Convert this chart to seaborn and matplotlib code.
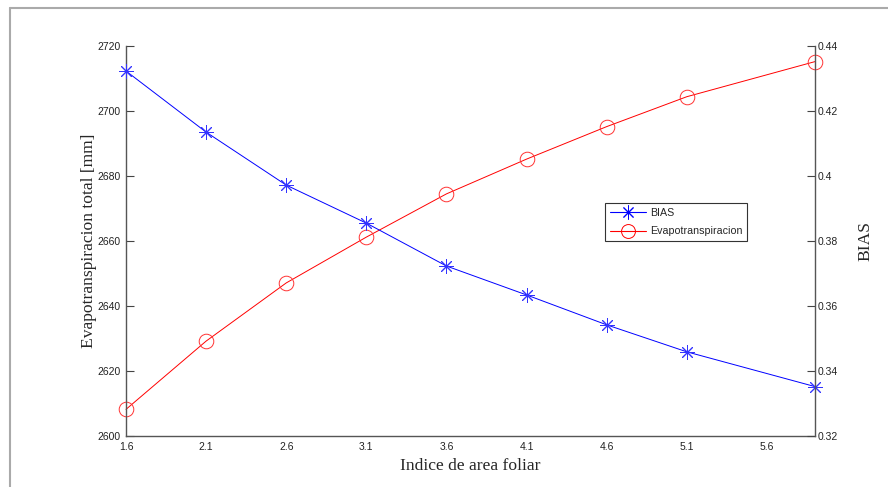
import matplotlib
matplotlib.use("Agg")
import matplotlib.pyplot as plt
from matplotlib.lines import Line2D
import seaborn as sns
import pandas as pd

lai = [1.6, 2.1, 2.6, 3.1, 3.6, 4.1, 4.6, 5.1, 5.9]
bias = [0.4323, 0.4135, 0.3972, 0.3855, 0.3723, 0.3634, 0.3542, 0.3459, 0.3352]
evapo = [2608.2, 2629.2, 2647.1, 2661.2, 2674.5, 2685.2, 2695.2, 2704.4, 2715.2]
xticks = [1.6, 2.1, 2.6, 3.1, 3.6, 4.1, 4.6, 5.1, 5.6]
yticks_left = [2600, 2620, 2640, 2660, 2680, 2700, 2720]
yticks_right = [0.32, 0.34, 0.36, 0.38, 0.4, 0.42, 0.44]

df = pd.DataFrame({"lai": lai, "bias": bias, "evapo": evapo})

sns.set_style("white")
fig = plt.figure(figsize=(8.88, 4.87), dpi=100)
ax = fig.add_axes([126/888, 1-436/487, (815-126)/888, (436-46)/487])
ax2 = ax.twinx()

asterisk = (8, 2, 0)
sns.lineplot(data=df, x="lai", y="evapo", ax=ax, color="red", lw=0.7,
             marker="o", markersize=10.5, markerfacecolor="none",
             markeredgecolor="#ff3333", markeredgewidth=0.7, clip_on=False)
sns.lineplot(data=df, x="lai", y="bias", ax=ax2, color="blue", lw=0.7,
             marker=asterisk, markersize=10.5, markeredgecolor="#3333ff",
             markeredgewidth=0.7, clip_on=False)

ax.set_xlim(1.6, 5.9)
ax.set_ylim(2600, 2720)
ax2.set_ylim(0.32, 0.44)
ax.set_xticks(xticks)
ax.set_xticklabels([f"{v:g}" for v in xticks])
ax.set_yticks(yticks_left)
ax.set_yticklabels([str(v) for v in yticks_left])
ax2.set_yticks(yticks_right)
ax2.set_yticklabels([f"{v:g}" for v in yticks_right])

for lab in ax.get_xticklabels() + ax.get_yticklabels() + ax2.get_yticklabels():
    lab.set_fontfamily("Liberation Sans")
    lab.set_fontsize(7.5)
    lab.set_color("#222222")

ax.tick_params(axis="both", direction="in", length=6, width=0.8, color="#444444", pad=4)
ax2.tick_params(axis="y", direction="in", length=6, width=0.8, color="#444444", pad=2)

for a in (ax, ax2):
    a.spines["top"].set_visible(False)
    for s in ("left", "right", "bottom"):
        a.spines[s].set_color("#555555")
        a.spines[s].set_linewidth(1.0)
ax.spines["right"].set_visible(False)
ax2.spines["left"].set_visible(False)
ax2.spines["bottom"].set_visible(False)

ax.set_xlabel("Indice de area foliar", fontfamily="Liberation Serif", fontsize=12.6, labelpad=5)
ax.set_ylabel("Evapotranspiracion total [mm]", fontfamily="Liberation Serif", fontsize=12.6, labelpad=0)
ax2.set_ylabel("BIAS", fontfamily="Liberation Serif", fontsize=12.6, labelpad=14)

handles = [
    Line2D([], [], color="blue", lw=0.8, marker=asterisk, markersize=10, markeredgewidth=0.7),
    Line2D([], [], color="red", lw=0.8, marker="o", markersize=10, markerfacecolor="none", markeredgewidth=0.7),
]
leg = ax.legend(handles, ["BIAS", "Evapotranspiracion"], loc="upper left",
                bbox_to_anchor=((605-126)/689, (436-203)/390),
                prop={"family": "Liberation Sans", "size": 7.7},
                fancybox=False, framealpha=1, edgecolor="#333333",
                borderpad=0.45, borderaxespad=0, handlelength=3.4,
                handletextpad=0.35, labelspacing=0.8)
leg.get_frame().set_linewidth(0.8)

fig.add_artist(Line2D([10/888, 1.0], [1-8/487, 1-8/487], color="#aaaaaa", lw=1.5, transform=fig.transFigure))
fig.add_artist(Line2D([10/888, 10/888], [0, 1-8/487], color="#aaaaaa", lw=1.5, transform=fig.transFigure))

fig.savefig("out.png", dpi=100)
